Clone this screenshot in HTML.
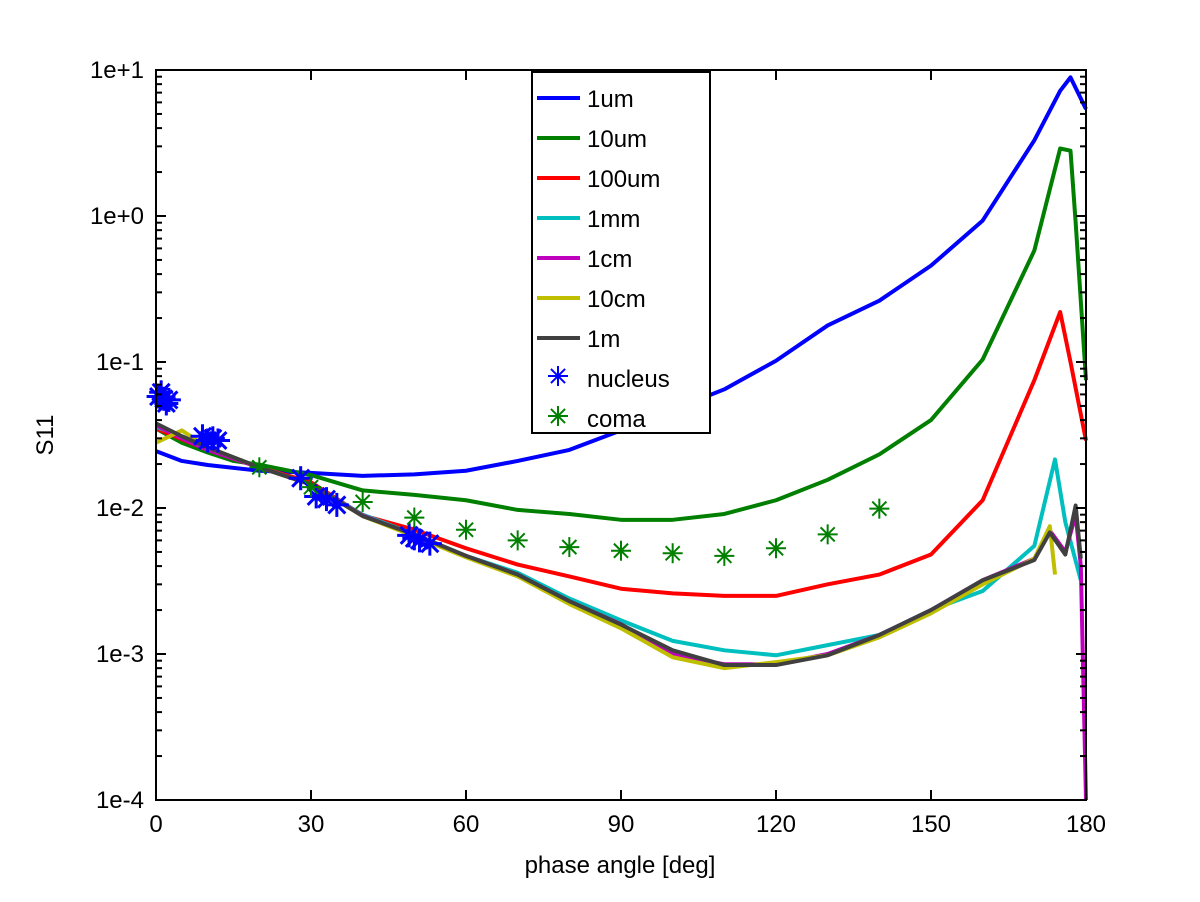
<!DOCTYPE html>
<html><head><meta charset="utf-8"><style>
body{margin:0;background:#fff}
svg{display:block;font-family:"Liberation Sans",sans-serif}
</style></head><body>
<svg id="chart" width="1200" height="902" viewBox="0 0 1200 902">
<rect width="1200" height="902" fill="#fff"/>
<g id="series"></g>
<g id="axes"></g>
<text x="620" y="873" font-size="24" text-anchor="middle">phase angle [deg]</text>
<text x="53" y="435" font-size="24" text-anchor="middle" transform="rotate(-90 53 435)">S11</text>
<g id="legend"></g>
</svg>
<script>
const NS="http://www.w3.org/2000/svg";
const xTicks=[0,30,60,90,120,150,180];
const yTickExps=[-4,-3,-2,-1,0,1];
const yTickLabels=["1e-4","1e-3","1e-2","1e-1","1e+0","1e+1"];
const seriesNames=["1um","10um","100um","1mm","1cm","10cm","1m"];
const seriesColors=["#0000ff","#007f00","#ff0000","#00bfbf","#bf00bf","#bfbf00","#404040"];
const angles1um=[0,5,10,20,30,40,50,60,70,80,90,100,110,120,130,140,150,160,170,175,177,180];
const vals1um=[0.0245,0.021,0.0197,0.018,0.0174,0.0166,0.017,0.018,0.021,0.025,0.034,0.047,0.065,0.102,0.178,0.263,0.457,0.93,3.3,7.2,8.9,5.4];
const angles10um=[0,5,10,15,20,30,40,50,60,70,80,90,100,110,120,130,140,150,160,170,175,177,178,180];
const vals10um=[0.035,0.028,0.024,0.021,0.0198,0.0168,0.0132,0.0123,0.0113,0.0097,0.0091,0.0083,0.0083,0.0091,0.0113,0.0156,0.0233,0.04,0.104,0.58,2.9,2.8,0.9,0.075];
const angles100um=[0,10,20,30,40,50,60,70,80,90,100,110,120,130,140,150,160,170,175,177,180];
const vals100um=[0.035,0.025,0.019,0.015,0.0089,0.0071,0.0053,0.0041,0.0034,0.0028,0.0026,0.0025,0.0025,0.003,0.0035,0.0048,0.0113,0.075,0.22,0.1,0.029];
const angles1mm=[0,5,10,20,30,40,50,60,70,80,90,100,110,120,130,140,150,160,170,174,176,179];
const vals1mm=[0.036,0.031,0.026,0.019,0.0145,0.009,0.0066,0.0047,0.0036,0.0024,0.0017,0.00123,0.00106,0.00098,0.00115,0.00135,0.002,0.0027,0.0055,0.0215,0.008,0.0032];
const angles1cm=[0,5,10,20,30,40,50,60,70,80,90,100,110,120,130,140,150,160,170,173,176,178,179,180];
const vals1cm=[0.037,0.03,0.025,0.019,0.0145,0.0089,0.0065,0.0047,0.0035,0.0023,0.0016,0.001,0.00085,0.00085,0.001,0.00135,0.002,0.0032,0.0045,0.007,0.005,0.009,0.004,0.0001];
const angles10cm=[0,5,10,20,30,40,50,60,70,80,90,100,110,120,130,140,150,160,170,173,174];
const vals10cm=[0.028,0.034,0.026,0.019,0.0145,0.0088,0.0064,0.0046,0.0034,0.0022,0.0015,0.00095,0.0008,0.00088,0.00098,0.0013,0.0019,0.003,0.0045,0.0075,0.0035];
const angles1m=[0,5,10,20,30,40,50,60,70,80,90,100,110,120,130,140,150,160,170,173,176,178,179];
const vals1m=[0.038,0.031,0.026,0.019,0.0145,0.0088,0.0066,0.0047,0.0035,0.0023,0.00159,0.00106,0.00084,0.00084,0.00098,0.00135,0.002,0.0032,0.0044,0.0068,0.0048,0.0104,0.0045];
const nucleusAngles=[0.5,1,1.5,2,2.5,9,10,11,12,28,31,33,35,49,50,51,53];
const nucleusVals=[0.058,0.062,0.056,0.052,0.055,0.031,0.029,0.03,0.029,0.016,0.012,0.0115,0.0105,0.0065,0.0062,0.006,0.0057];
const comaAngles=[20,30,40,50,60,70,80,90,100,110,120,130,140];
const comaVals=[0.019,0.0139,0.011,0.0086,0.0071,0.006,0.0054,0.0051,0.0049,0.0047,0.0053,0.0066,0.0099];

const X0=156,X1=1086,Y0=70,Y1=800;
const xs=a=>X0+(a/180)*(X1-X0);
const ys=v=>Y0+(1-Math.log10(v))*(Y1-Y0)/5;
function mk(t,at,parent){const e=document.createElementNS(NS,t);for(const k in at)e.setAttribute(k,at[k]);parent.appendChild(e);return e;}
const S=document.getElementById('series'),A=document.getElementById('axes'),L=document.getElementById('legend');
const allA=[angles1um,angles10um,angles100um,angles1mm,angles1cm,angles10cm,angles1m];
const allV=[vals1um,vals10um,vals100um,vals1mm,vals1cm,vals10cm,vals1m];
function star(g,cx,cy,r,col,w){for(let k=0;k<4;k++){const t=k*Math.PI/4;mk('line',{x1:cx-r*Math.cos(t),y1:cy-r*Math.sin(t),x2:cx+r*Math.cos(t),y2:cy+r*Math.sin(t),stroke:col,'stroke-width':w||2},g);}}
for(let i=0;i<7;i++){
  const p=mk('polyline',{points:allA[i].map((a,j)=>xs(a)+','+ys(allV[i][j])).join(' '),fill:'none',stroke:seriesColors[i],'stroke-width':4,'stroke-linejoin':'round'},S);
  
  
}
const gn=mk('g',{},S);


nucleusAngles.forEach((a,j)=>star(gn,xs(a),ys(nucleusVals[j]),12,'#0000ff',3));
const gc=mk('g',{},S);


comaAngles.forEach((a,j)=>star(gc,xs(a),ys(comaVals[j]),10,'#007f00',2));
mk('rect',{x:X0,y:Y0,width:X1-X0,height:Y1-Y0,fill:'none',stroke:'#000','stroke-width':2},A);
xTicks.forEach(t=>{const x=xs(t);
 mk('line',{x1:x,y1:Y1,x2:x,y2:Y1-10,stroke:'#000','stroke-width':2},A);
 mk('line',{x1:x,y1:Y0,x2:x,y2:Y0+10,stroke:'#000','stroke-width':2},A);
 const tx=mk('text',{x:x,y:Y1+32,'font-size':24,'text-anchor':'middle'},A);tx.textContent=t;
 
 
});
yTickExps.forEach((e,i)=>{const y=ys(Math.pow(10,e));
 mk('line',{x1:X0,y1:y,x2:X0+10,y2:y,stroke:'#000','stroke-width':2},A);
 mk('line',{x1:X1,y1:y,x2:X1-10,y2:y,stroke:'#000','stroke-width':2},A);
 const tx=mk('text',{x:X0-12,y:y+8,'font-size':24,'text-anchor':'end'},A);tx.textContent=yTickLabels[i];
 
 
 if(e<1)for(let m=2;m<10;m++){const yy=ys(m*Math.pow(10,e));
  mk('line',{x1:X0,y1:yy,x2:X0+6,y2:yy,stroke:'#000','stroke-width':2},A);
  mk('line',{x1:X1,y1:yy,x2:X1-6,y2:yy,stroke:'#000','stroke-width':2},A);}
});
mk('rect',{x:532,y:72,width:178,height:361,fill:'#fff',stroke:'#000','stroke-width':2},L);
const legLabels=seriesNames.concat(['nucleus','coma']);
legLabels.forEach((n,i)=>{const y=98+i*40;
 const g=mk('g',{},L);
 
 
 if(i<7)mk('line',{x1:537,y1:y,x2:580,y2:y,stroke:seriesColors[i],'stroke-width':4},g);
 else star(g,558,y-2,10,i==7?'#0000ff':'#007f00',2);
 const t=mk('text',{x:587,y:y+9,'font-size':24},g);t.textContent=n;
});
</script>
</body></html>
